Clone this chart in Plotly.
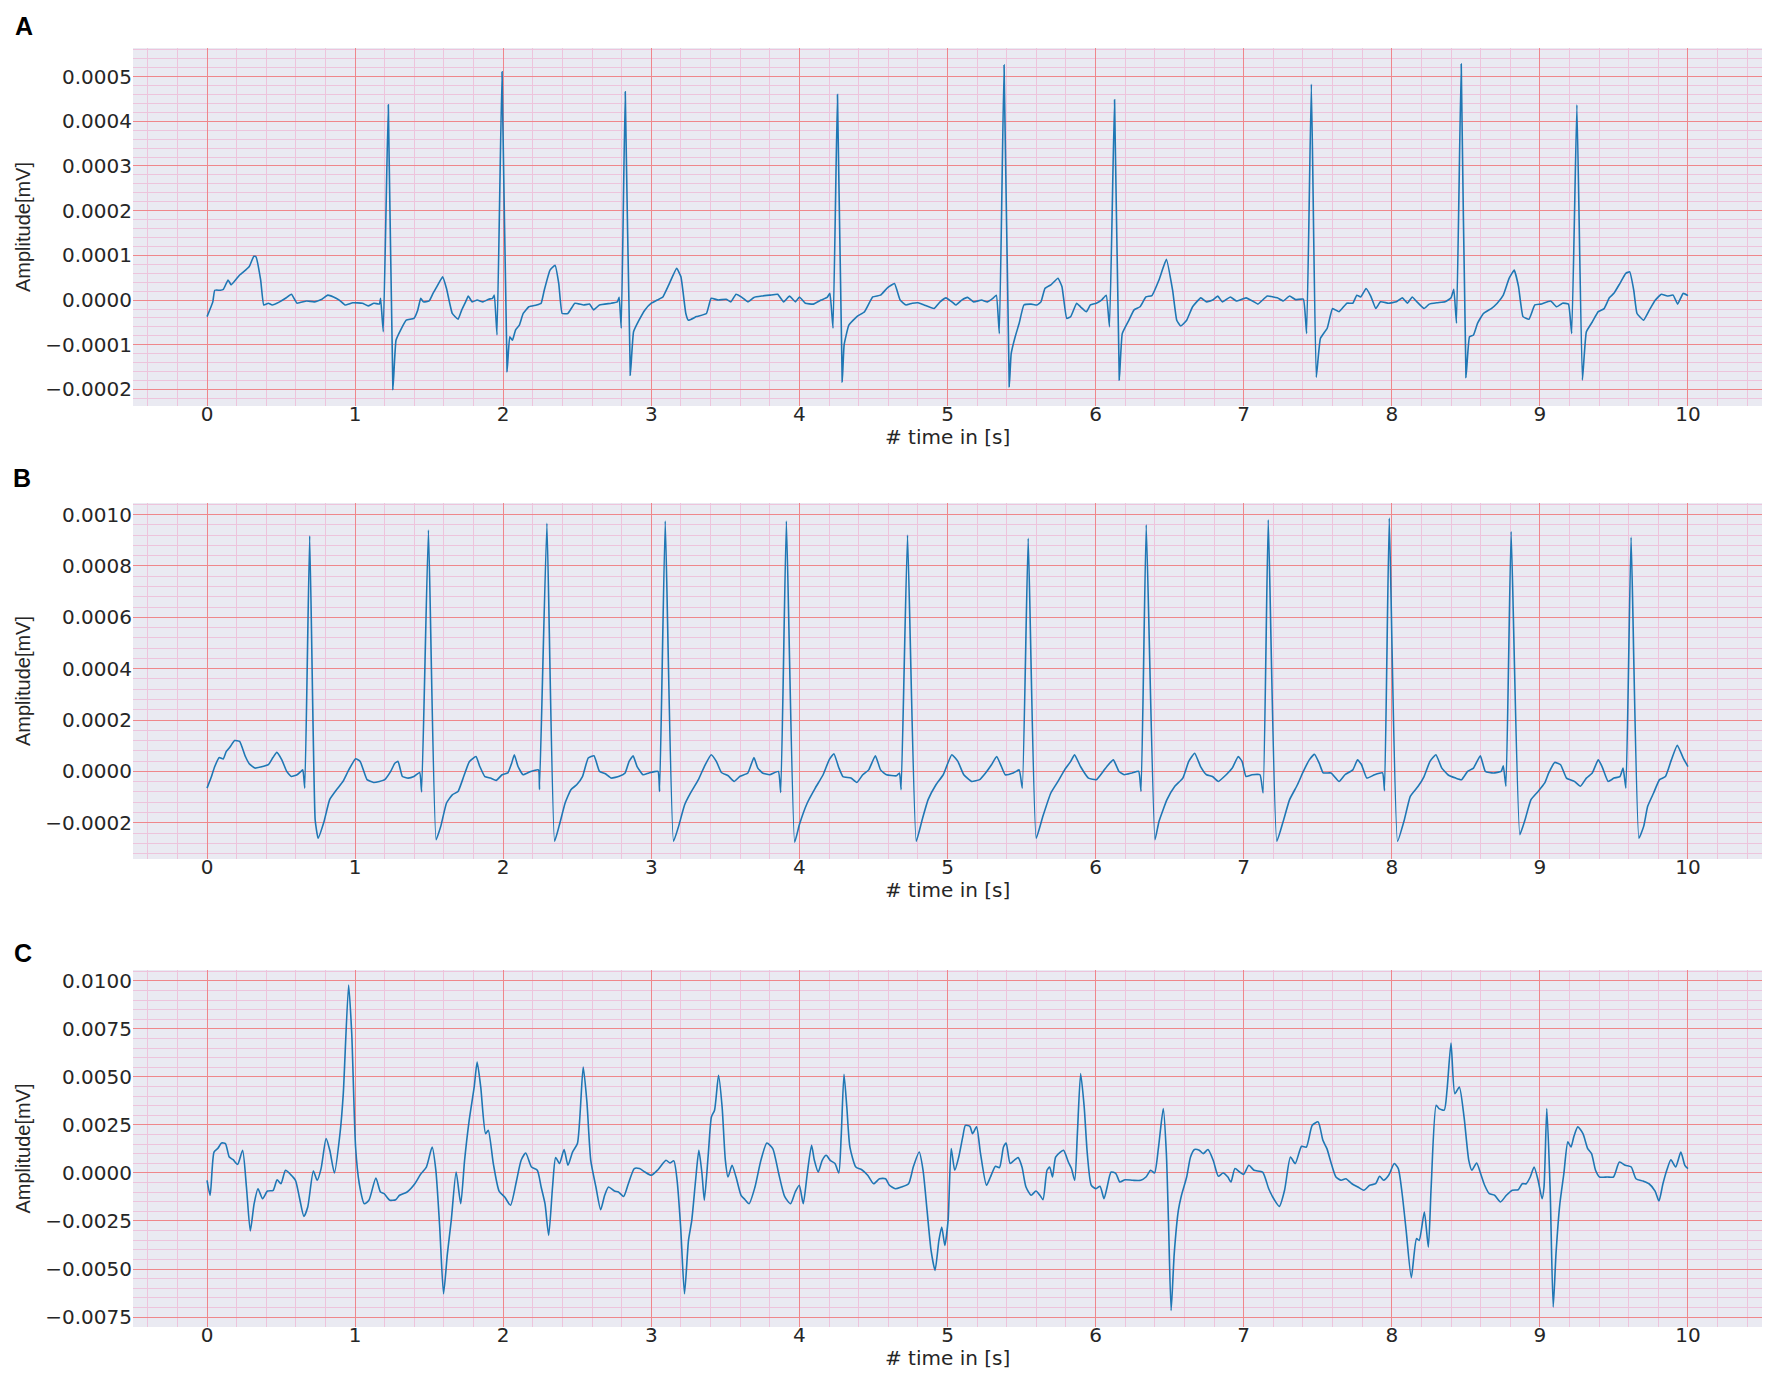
"""
Three ECG strips (A, B, C) drawn on ECG-paper style grids with Plotly.
"""

import math
import plotly.graph_objects as go

# ---------------------------------------------------------------------------
# Data (time in s). Amplitudes are stored in small
# integer units and scaled to mV below.
# ---------------------------------------------------------------------------

# Panel A, amplitude unit = 1e-6 mV
A_TIME = [
    0.000, 0.039, 0.052, 0.090, 0.110, 0.142, 0.163, 0.220, 0.260, 0.285,
    0.316, 0.330, 0.362, 0.383, 0.414, 0.440, 0.490, 0.530, 0.570, 0.608,
    0.672, 0.724, 0.776, 0.815, 0.854, 0.893, 0.932, 0.984, 1.049, 1.088,
    1.127, 1.164, 1.172, 1.190, 1.224, 1.255, 1.276, 1.307, 1.345, 1.397,
    1.423, 1.443, 1.461, 1.500, 1.526, 1.552, 1.591, 1.617, 1.656, 1.695,
    1.720, 1.746, 1.764, 1.790, 1.824, 1.863, 1.902, 1.928, 1.940, 1.958,
    1.992, 2.026, 2.044, 2.062, 2.083, 2.109, 2.135, 2.173, 2.225, 2.256,
    2.277, 2.316, 2.350, 2.375, 2.398, 2.436, 2.484, 2.543, 2.583, 2.610,
    2.650, 2.730, 2.770, 2.783, 2.797, 2.824, 2.858, 2.880, 2.917, 2.957,
    3.000, 3.040, 3.078, 3.118, 3.171, 3.200, 3.233, 3.250, 3.305, 3.372,
    3.404, 3.452, 3.505, 3.537, 3.572, 3.612, 3.652, 3.693, 3.746, 3.800,
    3.853, 3.893, 3.933, 3.973, 4.000, 4.040, 4.094, 4.147, 4.187, 4.206,
    4.227, 4.257, 4.289, 4.302, 4.334, 4.388, 4.440, 4.495, 4.548, 4.596,
    4.642, 4.680, 4.720, 4.762, 4.802, 4.842, 4.909, 4.950, 4.990, 5.030,
    5.056, 5.096, 5.136, 5.176, 5.230, 5.270, 5.310, 5.330, 5.350, 5.382,
    5.417, 5.430, 5.457, 5.484, 5.516, 5.564, 5.604, 5.631, 5.658, 5.698,
    5.746, 5.773, 5.805, 5.832, 5.872, 5.898, 5.938, 5.965, 6.005, 6.040,
    6.072, 6.094, 6.128, 6.160, 6.180, 6.225, 6.260, 6.300, 6.340, 6.380,
    6.428, 6.478, 6.520, 6.548, 6.575, 6.615, 6.655, 6.710, 6.750, 6.790,
    6.825, 6.856, 6.910, 6.950, 7.016, 7.070, 7.096, 7.160, 7.227, 7.267,
    7.310, 7.350, 7.403, 7.425, 7.457, 7.490, 7.518, 7.564, 7.600, 7.644,
    7.697, 7.737, 7.764, 7.790, 7.826, 7.858, 7.892, 7.924, 7.978, 8.031,
    8.071, 8.106, 8.138, 8.170, 8.218, 8.253, 8.306, 8.360, 8.400, 8.419,
    8.437, 8.469, 8.501, 8.525, 8.552, 8.579, 8.619, 8.672, 8.712, 8.753,
    8.793, 8.827, 8.856, 8.886, 8.926, 8.966, 9.006, 9.073, 9.113, 9.153,
    9.193, 9.215, 9.250, 9.287, 9.314, 9.354, 9.394, 9.434, 9.469, 9.500,
    9.540, 9.580, 9.607, 9.634, 9.656, 9.700, 9.740, 9.780, 9.820, 9.860,
    9.900, 9.930, 9.968, 10.000,
]
A_AMP_E6 = [
    -37, -4, 22, 22, 24, 45, 34, 56, 67, 75,
    98, 97, 45, -11, -7, -11, -4, 4, 13, -7,
    -2, -4, 2, 11, 7, 0, -11, -6, -7, -13,
    -7, -9, 4, -71, 437, -200, -90, -67, -45, -41,
    -22, 4, -4, -2, 15, 30, 52, 26, -30, -43,
    -22, -4, 9, -4, 0, -4, 2, 4, 11, -78,
    511, -160, -82, -90, -67, -56, -30, -15, -11, -7,
    22, 67, 78, 37, -30, -30, -7, -11, -9, -22,
    -11, -7, -4, 6, -63, 466, -168, -71, -45, -22,
    -7, 0, 7, 34, 71, 52, -30, -45, -37, -30,
    4, 0, 2, -4, 13, 6, -4, 6, 9, 11,
    13, -4, 9, -4, 7, -7, -9, 0, 6, 15,
    -63, 460, -183, -100, -56, -37, -26, 7, 11, 28,
    37, 0, -11, -7, -6, -11, -19, -4, 5, -4,
    -11, 0, 6, -4, 0, -4, 5, 11, -75, 526,
    -194, -120, -82, -52, -11, -9, -11, -4, 26, 34,
    49, 30, -41, -37, -7, -15, -26, -11, -7, 0,
    11, -60, 448, -179, -75, -45, -22, -15, 7, 10,
    45, 91, 22, -45, -58, -45, -15, 5, -4, 0,
    9, -4, 7, -2, 5, -4, -9, 9, 5, -2,
    9, 1, 2, -75, 483, -173, -86, -63, -19, -26,
    -7, -7, 11, 7, 26, 9, -19, -4, -7, -4,
    5, -7, 7, -4, -19, -9, -6, -4, 5, 24,
    -52, 528, -173, -82, -78, -52, -30, -19, -7, 11,
    49, 67, 30, -37, -43, -11, -9, -2, -15, -7,
    -9, -75, 437, -179, -71, -49, -26, -19, 5, 15,
    37, 60, 63, 22, -30, -45, -22, 0, 13, 9,
    11, -9, 15, 10,
]

# Panel B, amplitude unit = 1e-6 mV
B_TIME = [
    0.000, 0.026, 0.052, 0.083, 0.109, 0.130, 0.155, 0.186, 0.220, 0.259,
    0.285, 0.323, 0.362, 0.414, 0.445, 0.471, 0.505, 0.538, 0.569, 0.608,
    0.634, 0.647, 0.660, 0.693, 0.730, 0.750, 0.790, 0.828, 0.875, 0.918,
    0.957, 1.003, 1.034, 1.080, 1.125, 1.164, 1.200, 1.240, 1.268, 1.290,
    1.319, 1.358, 1.397, 1.436, 1.449, 1.495, 1.547, 1.578, 1.617, 1.656,
    1.695, 1.733, 1.772, 1.816, 1.842, 1.876, 1.914, 1.953, 1.992, 2.031,
    2.057, 2.075, 2.100, 2.134, 2.186, 2.238, 2.245, 2.295, 2.347, 2.380,
    2.418, 2.457, 2.496, 2.535, 2.574, 2.613, 2.650, 2.690, 2.730, 2.783,
    2.823, 2.850, 2.877, 2.904, 2.944, 2.984, 3.045, 3.056, 3.094, 3.150,
    3.184, 3.225, 3.265, 3.318, 3.358, 3.404, 3.439, 3.473, 3.519, 3.559,
    3.599, 3.652, 3.693, 3.719, 3.751, 3.799, 3.858, 3.874, 3.912, 3.968,
    4.000, 4.053, 4.107, 4.160, 4.201, 4.233, 4.267, 4.294, 4.348, 4.388,
    4.428, 4.468, 4.513, 4.548, 4.588, 4.655, 4.676, 4.687, 4.730, 4.789,
    4.829, 4.869, 4.922, 4.971, 5.029, 5.070, 5.110, 5.163, 5.217, 5.257,
    5.297, 5.332, 5.364, 5.390, 5.444, 5.484, 5.505, 5.545, 5.599, 5.644,
    5.698, 5.746, 5.791, 5.832, 5.858, 5.898, 5.952, 6.005, 6.051, 6.086,
    6.120, 6.158, 6.193, 6.246, 6.291, 6.307, 6.342, 6.401, 6.428, 6.482,
    6.535, 6.589, 6.629, 6.669, 6.709, 6.749, 6.789, 6.829, 6.882, 6.923,
    6.963, 6.989, 7.016, 7.056, 7.110, 7.131, 7.166, 7.224, 7.270, 7.310,
    7.363, 7.403, 7.443, 7.478, 7.510, 7.537, 7.590, 7.644, 7.684, 7.737,
    7.769, 7.796, 7.831, 7.884, 7.938, 7.951, 7.983, 8.039, 8.085, 8.125,
    8.178, 8.218, 8.258, 8.298, 8.338, 8.379, 8.432, 8.472, 8.512, 8.552,
    8.598, 8.632, 8.686, 8.739, 8.753, 8.771, 8.806, 8.865, 8.900, 8.940,
    8.988, 9.033, 9.060, 9.100, 9.140, 9.180, 9.233, 9.274, 9.314, 9.354,
    9.394, 9.420, 9.461, 9.501, 9.541, 9.562, 9.581, 9.616, 9.669, 9.701,
    9.728, 9.768, 9.808, 9.848, 9.888, 9.928, 9.968, 10.000,
]
B_AMP_E6 = [
    -65, -26, 19, 54, 48, 78, 95, 120, 117, 58,
    30, 13, 17, 26, 54, 74, 45, 0, -20, -13,
    0, 6, -65, 917, -188, -260, -195, -110, -71, -39,
    6, 49, 39, -32, -43, -39, -32, 0, 32, 39,
    -20, -26, -20, -4, -80, 940, -266, -214, -123, -91,
    -78, -20, 39, 58, 19, -20, -26, -35, -13, -6,
    32, 65, 19, -13, 0, 6, -71, 966, -272, -207,
    -123, -71, -52, -20, 52, 61, 0, -9, -26, -19,
    -6, 39, 61, 19, -13, -6, 0, -78, 975, -272,
    -214, -130, -84, -32, 19, 65, 39, -4, -17, -39,
    -19, -6, 54, 13, -6, -13, 0, -82, 975, -276,
    -207, -123, -65, -13, 45, 69, 13, -20, -26, -43,
    -13, 6, 61, 6, -13, -17, -6, -71, 920, -272,
    -188, -110, -52, -13, 65, 39, -13, -39, -32, -6,
    26, 58, 19, -13, -6, 6, -65, 908, -260, -175,
    -84, -39, 6, 39, 65, 19, -26, -32, 0, 26,
    45, 0, -13, -6, 0, -78, 960, -266, -195, -110,
    -58, -26, 39, 71, 19, -13, -20, -39, -13, 13,
    58, 39, -20, -13, -13, -84, 980, -272, -188, -110,
    -52, 0, 45, 67, 32, -6, -6, -39, -13, 6,
    45, 26, -26, -13, -6, -75, 986, -272, -188, -97,
    -58, -20, 39, 65, 13, -13, -26, -32, 0, 13,
    61, 0, -6, 0, 22, -58, 934, -246, -188, -110,
    -78, -45, -6, 35, 26, -26, -39, -58, -26, -6,
    45, 19, -39, -26, -20, 13, -65, 912, -260, -214,
    -136, -84, -32, -20, 45, 102, 52, 19,
]

# Panel C, amplitude unit = 1e-5 mV
C_TIME = [
    0.000, 0.021, 0.047, 0.072, 0.098, 0.124, 0.150, 0.176, 0.207, 0.240,
    0.266, 0.292, 0.318, 0.344, 0.375, 0.408, 0.447, 0.473, 0.499, 0.530,
    0.563, 0.597, 0.623, 0.654, 0.680, 0.718, 0.744, 0.770, 0.804, 0.829,
    0.860, 0.899, 0.920, 0.956, 0.977, 1.003, 1.028, 1.062, 1.093, 1.140,
    1.171, 1.196, 1.235, 1.274, 1.300, 1.351, 1.403, 1.442, 1.481, 1.520,
    1.545, 1.571, 1.597, 1.623, 1.649, 1.682, 1.713, 1.739, 1.770, 1.804,
    1.824, 1.848, 1.881, 1.899, 1.933, 1.972, 2.010, 2.049, 2.088, 2.121,
    2.152, 2.191, 2.230, 2.256, 2.282, 2.307, 2.333, 2.354, 2.380, 2.411,
    2.437, 2.468, 2.501, 2.540, 2.565, 2.591, 2.626, 2.658, 2.685, 2.711,
    2.751, 2.778, 2.813, 2.845, 2.885, 2.920, 2.957, 3.000, 3.045, 3.099,
    3.126, 3.152, 3.174, 3.198, 3.224, 3.251, 3.273, 3.299, 3.321, 3.342,
    3.358, 3.385, 3.406, 3.427, 3.454, 3.478, 3.500, 3.518, 3.545, 3.572,
    3.606, 3.633, 3.660, 3.700, 3.740, 3.780, 3.820, 3.860, 3.900, 3.940,
    3.972, 3.999, 4.026, 4.053, 4.082, 4.101, 4.127, 4.154, 4.181, 4.208,
    4.240, 4.266, 4.282, 4.301, 4.320, 4.341, 4.381, 4.421, 4.461, 4.501,
    4.541, 4.582, 4.608, 4.648, 4.688, 4.737, 4.769, 4.809, 4.835, 4.862,
    4.889, 4.916, 4.942, 4.961, 4.982, 5.004, 5.025, 5.049, 5.076, 5.103,
    5.121, 5.151, 5.169, 5.196, 5.223, 5.263, 5.290, 5.324, 5.351, 5.378,
    5.396, 5.423, 5.450, 5.477, 5.503, 5.530, 5.565, 5.597, 5.624, 5.645,
    5.672, 5.690, 5.709, 5.730, 5.762, 5.784, 5.816, 5.837, 5.859, 5.877,
    5.899, 5.923, 5.944, 5.971, 6.003, 6.030, 6.057, 6.078, 6.105, 6.137,
    6.164, 6.199, 6.252, 6.305, 6.340, 6.372, 6.398, 6.425, 6.457, 6.478,
    6.492, 6.510, 6.531, 6.559, 6.580, 6.615, 6.641, 6.668, 6.700, 6.727,
    6.759, 6.794, 6.829, 6.861, 6.893, 6.914, 6.941, 6.973, 7.000, 7.035,
    7.070, 7.128, 7.169, 7.203, 7.241, 7.276, 7.316, 7.348, 7.391, 7.423,
    7.463, 7.503, 7.535, 7.562, 7.589, 7.623, 7.658, 7.690, 7.731, 7.771,
    7.811, 7.851, 7.891, 7.918, 7.945, 7.979, 8.017, 8.044, 8.070, 8.097,
    8.132, 8.167, 8.185, 8.220, 8.247, 8.266, 8.300, 8.319, 8.354, 8.373,
    8.400, 8.426, 8.456, 8.488, 8.520, 8.541, 8.573, 8.600, 8.627, 8.659,
    8.694, 8.734, 8.774, 8.814, 8.854, 8.881, 8.908, 8.935, 8.961, 8.988,
    9.015, 9.028, 9.047, 9.069, 9.090, 9.109, 9.135, 9.162, 9.189, 9.210,
    9.229, 9.256, 9.291, 9.323, 9.349, 9.376, 9.403, 9.456, 9.497, 9.537,
    9.577, 9.617, 9.649, 9.697, 9.737, 9.778, 9.804, 9.831, 9.858, 9.885,
    9.917, 9.952, 9.979, 10.000,
]
C_AMP_E5 = [
    -38, -116, 109, 127, 156, 153, 83, 69, 45, 118,
    -73, -302, -160, -82, -134, -94, -90, -35, -56, 14,
    -7, -38, -125, -226, -177, 10, -38, 23, 179, 118,
    0, 214, 413, 978, 726, 135, -56, -160, -142, -26,
    -99, -108, -142, -139, -116, -99, -56, -7, 31, 135,
    14, -281, -629, -420, -247, 5, -160, 66, 274, 448,
    578, 448, 205, 222, 49, -94, -125, -168, -47, 66,
    104, 31, 14, -73, -160, -325, -73, 80, 49, 122,
    40, 109, 153, 552, 370, 66, -73, -191, -116, -73,
    -94, -99, -122, -56, 23, 23, 5, -12, 17, 66,
    52, 63, -38, -281, -629, -351, -247, -38, 118, -3,
    -142, 101, 292, 327, 509, 344, 66, -21, 40, -21,
    -116, -139, -160, -73, 66, 156, 127, -3, -122, -160,
    -99, -64, -160, -3, 144, 66, 5, 66, 92, 66,
    49, 0, 188, 514, 344, 135, 31, 17, -12, -56,
    -30, -30, -64, -82, -73, -56, 31, 109, 14, -195,
    -403, -507, -351, -281, -377, -247, 127, 14, 83, 188,
    248, 243, 205, 240, 101, -64, -21, 35, 28, 135,
    156, 49, 66, 80, 31, -73, -116, -94, -116, -139,
    14, 31, -21, 83, 109, 118, 57, 23, -38, 205,
    518, 344, 101, -64, -82, -69, -134, -73, 5, -3,
    -47, -35, -38, -38, -21, 14, 0, 135, 335, 101,
    -247, -716, -420, -195, -116, -21, 83, 122, 118, 101,
    122, 66, -17, 0, -21, -47, 23, 5, -7, 40,
    14, 5, -82, -134, -174, -90, 83, 49, 139, 135,
    248, 266, 170, 127, 56, -21, -38, -30, -56, -73,
    -90, -64, -56, -17, -38, -12, 49, 23, -108, -299,
    -545, -342, -351, -203, -386, -73, 353, 335, 327, 431,
    677, 413, 448, 292, 66, 14, 52, -3, -64, -108,
    -116, -151, -116, -90, -87, -56, -56, -21, 31, -38,
    -134, -73, 335, -73, -698, -420, -160, -3, 162, 135,
    188, 240, 205, 127, 101, 14, -21, -21, -21, 57,
    40, 31, -30, -42, -56, -94, -146, -56, 17, 69,
    31, 109, 40, 23,
]

PANEL_LABELS = ["A", "B", "C"]
X_TICKS = list(range(0, 11))
X_RANGE = [-0.5, 10.5]
Y_TICK_STEP = [0.0001, 0.0002, 0.0025]
Y_RANGES = [
    [-0.000237, 0.000564],
    [-0.000341, 0.001045],
    [-0.00802, 0.01057],
]
X_TITLE = "# time in [s]"
Y_TITLE = "Amplitude[mV]"

# ---------------------------------------------------------------------------
# Styling / geometry (page pixels, the page body adds an 8 px offset)
# ---------------------------------------------------------------------------
PAGE_W, PAGE_H = 1772, 1380
BODY = 8
WIDTH, HEIGHT = PAGE_W - BODY, PAGE_H - BODY

PLOT_LEFT, PLOT_RIGHT = 133, 1762          # page px
PANEL_PX = [(48, 406), (503, 859), (970, 1327)]
LABEL_PX = [(24, 26), (22, 478), (23, 953)]
XTITLE_GAP = 31                             # title centre below panel bottom

MARGIN = dict(
    l=PLOT_LEFT - BODY,
    r=WIDTH - (PLOT_RIGHT - BODY),
    t=PANEL_PX[0][0] - BODY,
    b=HEIGHT - (PANEL_PX[2][1] - BODY),
)
PLOT_W = WIDTH - MARGIN["l"] - MARGIN["r"]
PLOT_H = HEIGHT - MARGIN["t"] - MARGIN["b"]

BG = "#EAEAF2"
MAJOR = "#EF878B"
MINOR = "#EDC4DC"
LINE = "#1f77b4"
TEXT = "#262626"
TICK_FONT = dict(family="DejaVu Sans, Verdana, sans-serif", size=20, color=TEXT)
YLABEL_FONT = dict(family="Liberation Sans, Arial, sans-serif", size=20, color=TEXT)


def px_to_paper_y(py):
    return (HEIGHT - MARGIN["b"] - (py - BODY)) / PLOT_H


def px_to_paper_x(px):
    return ((px - BODY) - MARGIN["l"]) / PLOT_W


def minor_values(lo, hi, major_step):
    """Minor grid positions (5 per major division), skipping the majors."""
    step = major_step / 5
    k0, k1 = math.floor(lo / step), math.ceil(hi / step)
    return [round(k * step, 10) for k in range(k0, k1 + 1) if k % 5 != 0]


series = [
    (A_TIME, [v * 1e-6 for v in A_AMP_E6], 0.35),
    (B_TIME, [v * 1e-6 for v in B_AMP_E6], 0.4),
    (C_TIME, [v * 1e-5 for v in C_AMP_E5], 0.6),
]

fig = go.Figure()

for i, (t, amp, smooth) in enumerate(series):
    n = "" if i == 0 else str(i + 1)
    fig.add_trace(go.Scatter(
        x=t,
        y=amp,
        mode="lines",
        line=dict(color=LINE, width=1.6, shape="spline", smoothing=smooth),
        xaxis="x" + n,
        yaxis="y" + n,
        showlegend=False,
    ))

    top, bottom = PANEL_PX[i]
    step = Y_TICK_STEP[i]

    fig.layout["xaxis" + n] = dict(
        domain=[0, 1],
        anchor="y" + n,
        range=X_RANGE,
        tickmode="array",
        tickvals=X_TICKS,
        ticktext=[str(v) for v in X_TICKS],
        ticks="",
        ticklabelstandoff=-6,
        showline=False,
        zeroline=False,
        showgrid=True,
        gridcolor=MAJOR,
        gridwidth=1.4,
        minor=dict(tickmode="array", tickvals=minor_values(X_RANGE[0], X_RANGE[1], 1.0),
                   showgrid=True, gridcolor=MINOR, gridwidth=1),
        tickfont=TICK_FONT,
        automargin=False,
        fixedrange=True,
    )
    fig.layout["yaxis" + n] = dict(
        domain=[px_to_paper_y(bottom), px_to_paper_y(top)],
        anchor="x" + n,
        range=Y_RANGES[i],
        tick0=0,
        dtick=step,
        tickformat=".4f",
        ticks="",
        showline=False,
        zeroline=False,
        showgrid=True,
        gridcolor=MAJOR,
        gridwidth=1.4,
        minor=dict(tickmode="array", tickvals=minor_values(Y_RANGES[i][0], Y_RANGES[i][1], step),
                   showgrid=True, gridcolor=MINOR, gridwidth=1),
        tickfont=TICK_FONT,
        title=dict(text=Y_TITLE, font=YLABEL_FONT, standoff=9),
        automargin=False,
        fixedrange=True,
    )

    # x-axis title, placed just under the tick labels as in the reference
    fig.add_annotation(
        text=X_TITLE,
        xref="paper", yref="paper",
        x=0.5, y=px_to_paper_y(bottom + XTITLE_GAP),
        xanchor="center", yanchor="middle",
        showarrow=False,
        font=TICK_FONT,
    )

    lx, ly = LABEL_PX[i]
    fig.add_annotation(
        text="<b>%s</b>" % PANEL_LABELS[i],
        xref="paper", yref="paper",
        x=px_to_paper_x(lx), y=px_to_paper_y(ly),
        xanchor="center", yanchor="middle",
        showarrow=False,
        font=dict(family="Liberation Sans, Arial, sans-serif", size=25, color="black"),
    )

fig.update_layout(
    width=WIDTH,
    height=HEIGHT,
    margin=dict(**MARGIN, autoexpand=False),
    plot_bgcolor=BG,
    paper_bgcolor="white",
    showlegend=False,
)

fig.write_html("out.html")
